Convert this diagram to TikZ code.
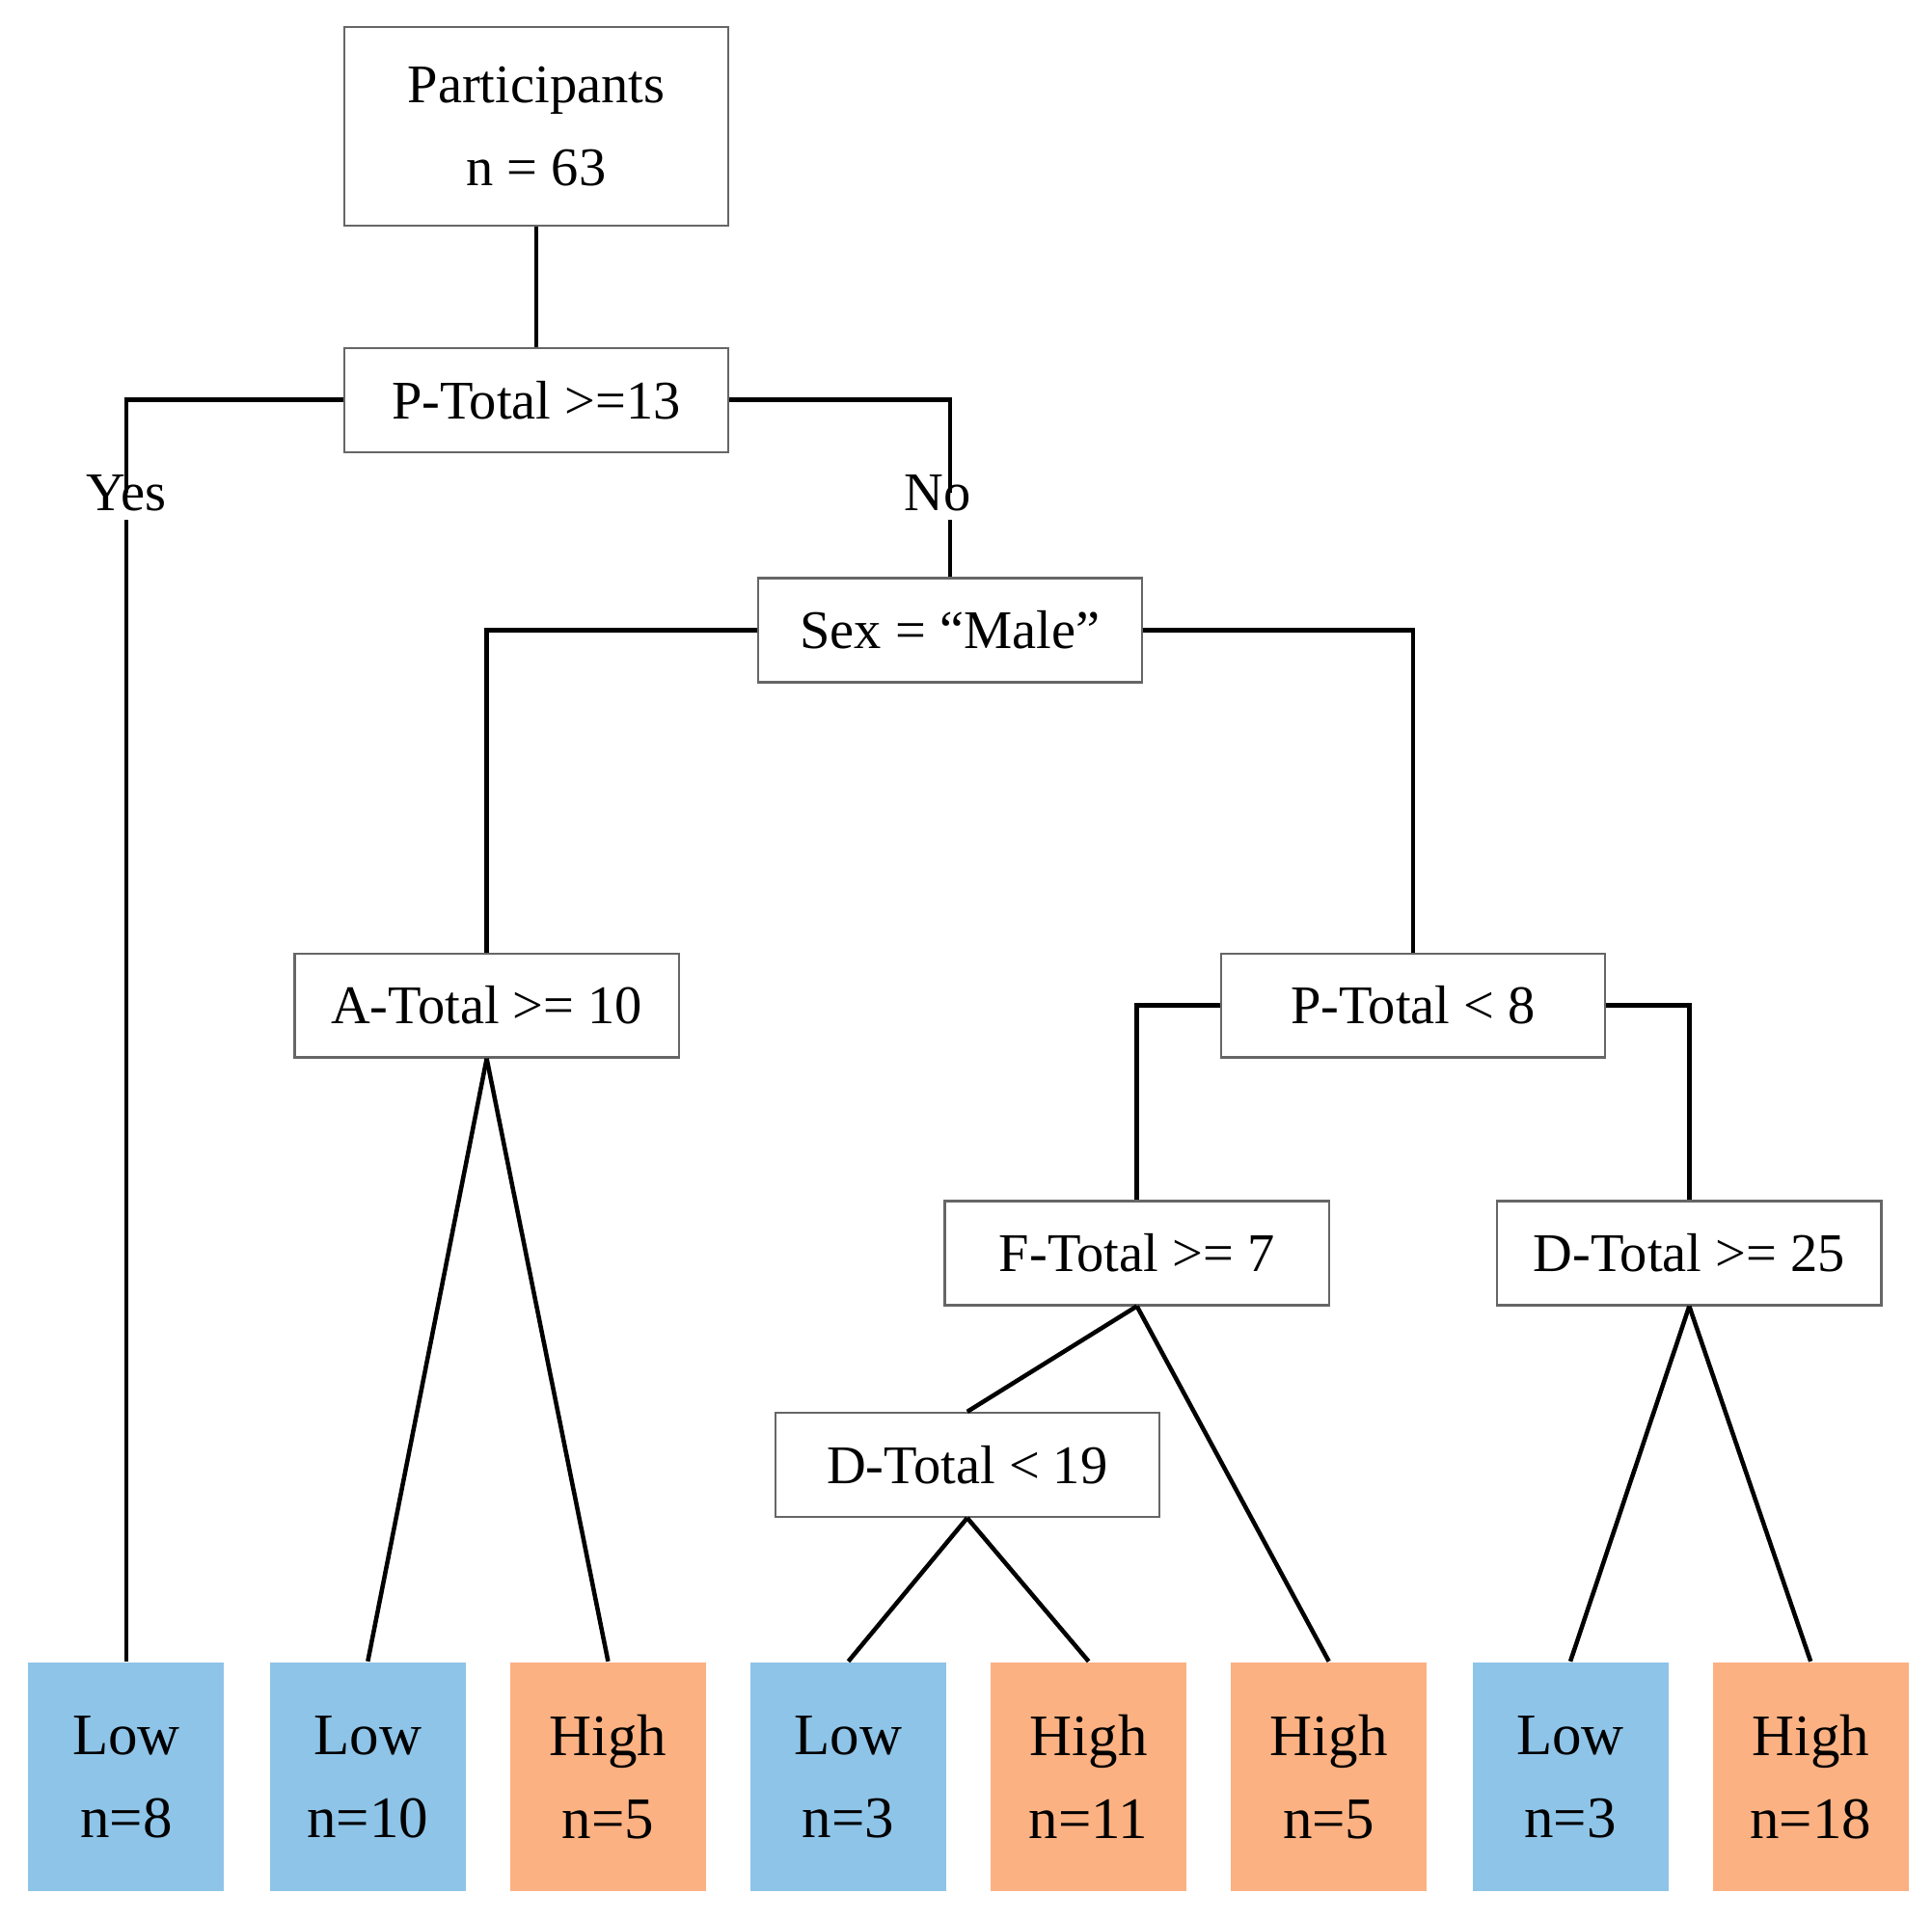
\documentclass[tikz,border=0pt]{standalone}
\usepackage{fontspec}
\setmainfont{Liberation Serif}
\definecolor{lowblue}{RGB}{142,196,232}
\definecolor{highorange}{RGB}{252,177,130}
\tikzset{
  split/.style={draw=black!60, line width=0.5pt, fill=white, minimum width=3.1cm, minimum height=0.84cm, inner sep=0pt, font=\fontsize{12.5}{14}\selectfont},
  leaf/.style={minimum width=1.58cm, minimum height=1.85cm, inner sep=0pt, align=center, font=\fontsize{13.5}{19}\selectfont},
  low/.style={leaf, fill=lowblue},
  high/.style={leaf, fill=highorange},
  edge/.style={line width=1pt}
}
\begin{document}
\begin{tikzpicture}[x=0.01cm, y=-0.01cm]
    \useasboundingbox (0,0) rectangle (1560,1550);
    % splits
    \node [split, minimum height=1.6cm, align=center, font=\fontsize{12.5}{19}\selectfont] (root) at (433,102) {Participants\\n = 63};
    \node [split] (ptot13) at (433,323) {P-Total >=13};
    \node [split] (sex) at (767,509) {Sex = “Male”};
    \node [split] (atot) at (393,812) {A-Total >= 10};
    \node [split] (ptot8) at (1141,812) {P-Total < 8};
    \node [split] (ftot) at (918,1012) {F-Total >= 7};
    \node [split] (dtot25) at (1364,1012) {D-Total >= 25};
    \node [split] (dtot19) at (781,1183) {D-Total < 19};
    \node [font=\fontsize{12.5}{14}\selectfont] (yes) at (102,398) {Yes};
    \node [font=\fontsize{12.5}{14}\selectfont] (no) at (757,398) {No};
    % leaves
    \node [low] (l1) at (102,1435) {Low\\n=8};
    \node [low] (l2) at (297,1435) {Low\\n=10};
    \node [high] (l3) at (491,1435) {High\\n=5};
    \node [low] (l4) at (685,1435) {Low\\n=3};
    \node [high] (l5) at (879,1435) {High\\n=11};
    \node [high] (l6) at (1073,1435) {High\\n=5};
    \node [low] (l7) at (1268,1435) {Low\\n=3};
    \node [high] (l8) at (1462,1435) {High\\n=18};
    % connectors
    \draw [edge] (root) -- (ptot13);
    \draw [edge] (ptot13.west) -| ([yshift=-0.27cm]yes.north);
    \draw [edge] ([yshift=0.05cm]yes.south) -- (l1);
    \draw [edge] (ptot13.east) -| ([xshift=0.1cm, yshift=-0.27cm]no.north);
    \draw [edge] ([xshift=0.1cm, yshift=0.05cm]no.south) -- ([xshift=0.1cm]no.south |- sex.north);
    \draw [edge] (sex.west) -| (atot.north);
    \draw [edge] (sex.east) -| (ptot8.north);
    \draw [edge] (ptot8.west) -| (ftot.north);
    \draw [edge] (ptot8.east) -| (dtot25.north);
    \draw [edge] (atot.south) -- (l2.north);
    \draw [edge] (atot.south) -- (l3.north);
    \draw [edge] (ftot.south) -- (dtot19.north);
    \draw [edge] (ftot.south) -- (l6.north);
    \draw [edge] (dtot19.south) -- (l4.north);
    \draw [edge] (dtot19.south) -- (l5.north);
    \draw [edge] (dtot25.south) -- (l7.north);
    \draw [edge] (dtot25.south) -- (l8.north);
\end{tikzpicture}
\end{document}
